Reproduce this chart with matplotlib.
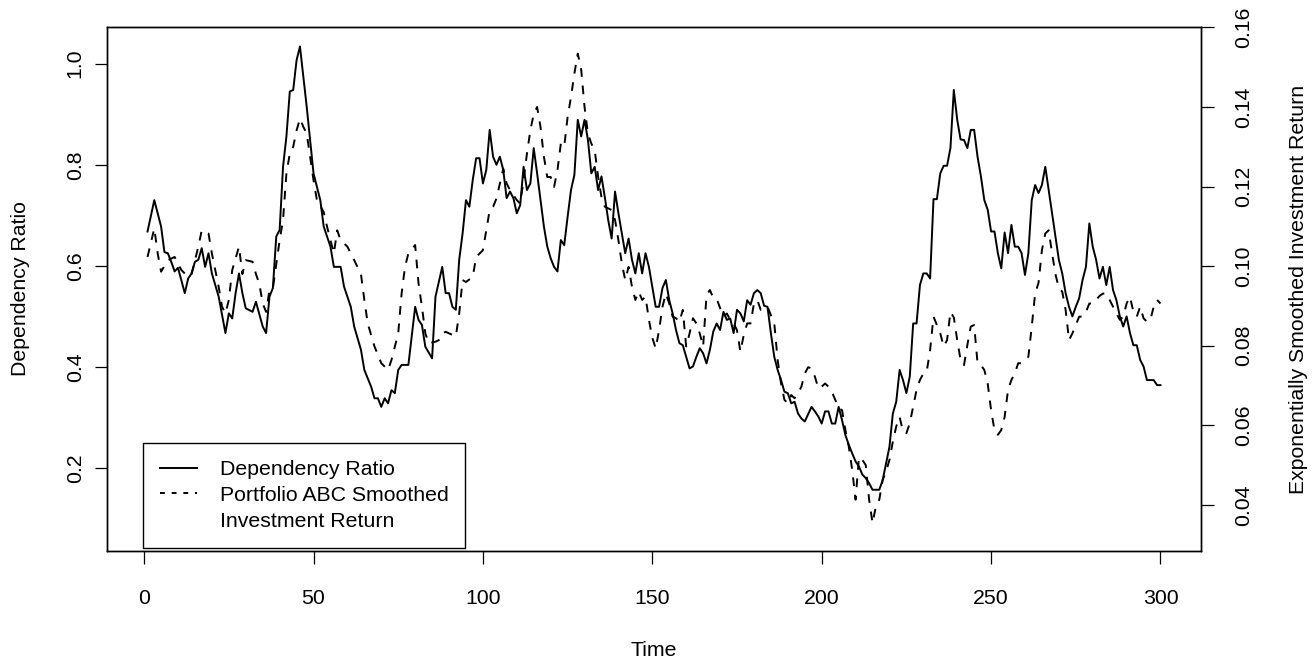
import matplotlib
matplotlib.use("Agg")
import matplotlib.pyplot as plt
from matplotlib.lines import Line2D

plt.rcParams['font.family'] = ['Liberation Sans', 'DejaVu Sans']
plt.rcParams['font.size'] = 15.3

# ---------- dependency ratio (left axis) ----------
dep_time = [1, 3, 5, 6, 7, 8, 9, 10, 12, 13, 14, 15, 16, 17, 18, 19, 20, 22, 23, 24,
            25, 26, 27, 28, 29, 30, 32, 33, 35, 36, 37, 38, 39, 40, 41, 42, 43, 44, 45, 46,
            47, 48, 49, 50, 52, 53, 55, 56, 58, 59, 61, 62, 64, 65, 67, 68, 69, 70, 71, 72,
            73, 74, 75, 76, 78, 80, 81, 82, 83, 85, 86, 88, 89, 90, 91, 92, 93, 94, 95, 96,
            97, 98, 99, 100, 101, 102, 103, 104, 105, 106, 107, 108, 109, 110, 111, 112, 113, 114, 115, 116,
            117, 118, 119, 120, 121, 122, 123, 124, 125, 126, 127, 128, 129, 130, 131, 132, 133, 134, 135, 136,
            137, 138, 139, 140, 141, 142, 143, 144, 145, 146, 147, 148, 149, 150, 151, 152, 153, 154, 155, 156,
            157, 158, 159, 160, 161, 162, 163, 164, 165, 166, 167, 168, 169, 170, 171, 172, 173, 174, 175, 176,
            177, 178, 179, 180, 181, 182, 183, 184, 185, 186, 187, 188, 189, 190, 191, 192, 193, 194, 195, 197,
            198, 199, 200, 201, 202, 203, 204, 205, 206, 207, 208, 209, 210, 211, 212, 213, 214, 215, 216, 217,
            218, 219, 220, 221, 222, 223, 224, 225, 226, 227, 228, 229, 230, 231, 232, 233, 234, 235, 236, 237,
            238, 239, 240, 241, 242, 243, 244, 245, 246, 247, 248, 249, 250, 251, 252, 253, 254, 255, 256, 257,
            258, 259, 260, 261, 262, 263, 264, 265, 266, 267, 268, 269, 270, 271, 272, 273, 274, 275, 276, 277,
            278, 279, 280, 281, 282, 283, 284, 285, 286, 287, 288, 289, 290, 291, 292, 293, 294, 295, 296, 297,
            298, 299, 300]
dep_ratio = [0.668, 0.730, 0.678, 0.627, 0.625, 0.608, 0.589, 0.596, 0.546, 0.575, 0.585, 0.608, 0.612, 0.635, 0.598, 0.625, 0.585, 0.539, 0.503, 0.467,
             0.506, 0.496, 0.546, 0.585, 0.546, 0.516, 0.509, 0.529, 0.480, 0.467, 0.539, 0.556, 0.658, 0.671, 0.796, 0.856, 0.945, 0.948, 1.007, 1.034,
             0.974, 0.914, 0.849, 0.783, 0.730, 0.678, 0.638, 0.598, 0.598, 0.559, 0.519, 0.480, 0.434, 0.394, 0.361, 0.338, 0.338, 0.321, 0.338, 0.328,
             0.354, 0.348, 0.394, 0.404, 0.404, 0.519, 0.493, 0.483, 0.440, 0.417, 0.539, 0.598, 0.546, 0.546, 0.519, 0.513, 0.612, 0.664, 0.730, 0.717,
             0.770, 0.813, 0.813, 0.763, 0.790, 0.869, 0.816, 0.800, 0.816, 0.790, 0.734, 0.747, 0.734, 0.704, 0.720, 0.796, 0.750, 0.763, 0.833, 0.783,
             0.730, 0.678, 0.638, 0.615, 0.598, 0.589, 0.651, 0.641, 0.697, 0.750, 0.780, 0.889, 0.856, 0.889, 0.849, 0.783, 0.796, 0.750, 0.777, 0.735,
             0.690, 0.654, 0.747, 0.704, 0.664, 0.625, 0.654, 0.612, 0.585, 0.625, 0.585, 0.625, 0.598, 0.559, 0.519, 0.519, 0.556, 0.572, 0.532, 0.506,
             0.473, 0.447, 0.443, 0.420, 0.397, 0.401, 0.420, 0.437, 0.427, 0.407, 0.434, 0.470, 0.486, 0.473, 0.509, 0.493, 0.496, 0.467, 0.513, 0.506,
             0.490, 0.532, 0.523, 0.546, 0.552, 0.546, 0.521, 0.519, 0.467, 0.420, 0.394, 0.374, 0.351, 0.348, 0.328, 0.331, 0.308, 0.298, 0.292, 0.321,
             0.312, 0.302, 0.288, 0.312, 0.312, 0.288, 0.288, 0.321, 0.295, 0.265, 0.246, 0.229, 0.213, 0.203, 0.187, 0.180, 0.170, 0.157, 0.157, 0.157,
             0.176, 0.209, 0.242, 0.308, 0.331, 0.394, 0.374, 0.348, 0.381, 0.486, 0.486, 0.562, 0.585, 0.585, 0.575, 0.732, 0.732, 0.783, 0.798, 0.798,
             0.833, 0.948, 0.889, 0.850, 0.849, 0.833, 0.869, 0.869, 0.816, 0.777, 0.730, 0.711, 0.668, 0.668, 0.625, 0.595, 0.666, 0.625, 0.681, 0.638,
             0.638, 0.625, 0.582, 0.625, 0.730, 0.760, 0.744, 0.760, 0.796, 0.750, 0.704, 0.658, 0.612, 0.585, 0.546, 0.519, 0.500, 0.519, 0.536, 0.572,
             0.598, 0.684, 0.638, 0.612, 0.575, 0.598, 0.562, 0.598, 0.552, 0.532, 0.500, 0.480, 0.500, 0.467, 0.443, 0.443, 0.414, 0.401, 0.374, 0.374,
             0.374, 0.364, 0.364]

# ---------- smoothed investment return (right axis) ----------
ret_time = [1, 3, 4, 5, 7, 9, 11, 13, 14, 16, 17, 18, 19, 20, 21, 22, 23, 24, 25, 26,
            28, 29, 30, 32, 33, 34, 35, 36, 37, 38, 40, 41, 42, 43, 44, 45, 46, 47, 48, 50,
            51, 53, 54, 56, 57, 58, 60, 62, 64, 65, 66, 68, 70, 72, 73, 75, 76, 77, 78, 80,
            81, 82, 83, 84, 86, 87, 88, 89, 90, 92, 93, 94, 95, 97, 98, 100, 101, 102, 103, 104,
            105, 106, 107, 108, 110, 111, 112, 113, 114, 115, 116, 117, 118, 119, 120, 121, 122, 123, 124, 125,
            126, 127, 128, 129, 130, 131, 132, 133, 134, 135, 136, 137, 138, 139, 140, 141, 142, 143, 144, 145,
            146, 147, 148, 149, 150, 151, 152, 153, 154, 155, 156, 157, 158, 159, 160, 161, 162, 163, 164, 165,
            166, 167, 168, 169, 170, 171, 172, 173, 174, 175, 176, 177, 178, 179, 180, 181, 182, 183, 184, 186,
            187, 188, 189, 190, 191, 192, 193, 194, 195, 196, 197, 198, 199, 200, 201, 202, 203, 204, 205, 206,
            207, 208, 209, 210, 211, 212, 213, 214, 215, 216, 217, 218, 219, 220, 221, 222, 223, 224, 225, 226,
            227, 228, 229, 230, 231, 232, 233, 234, 235, 236, 237, 238, 239, 240, 241, 242, 243, 244, 245, 246,
            247, 248, 249, 250, 251, 252, 253, 254, 255, 256, 257, 258, 259, 260, 261, 262, 263, 264, 265, 266,
            267, 268, 269, 270, 271, 272, 273, 274, 275, 276, 277, 278, 279, 280, 281, 282, 283, 284, 285, 286,
            287, 288, 289, 290, 291, 292, 293, 294, 295, 296, 297, 298, 299, 300]
ret_value = [0.1023, 0.1095, 0.1032, 0.0986, 0.1015, 0.1023, 0.0990, 0.0973, 0.0980, 0.1049, 0.1090, 0.1085, 0.1082, 0.1032, 0.0990, 0.0948, 0.0898, 0.0881, 0.0915, 0.0990,
             0.1049, 0.0980, 0.1015, 0.1011, 0.0980, 0.0956, 0.0906, 0.0885, 0.0940, 0.0944, 0.1065, 0.1116, 0.1233, 0.1283, 0.1300, 0.1341, 0.1371, 0.1350, 0.1333, 0.1216,
             0.1166, 0.1136, 0.1099, 0.1032, 0.1090, 0.1065, 0.1049, 0.1015, 0.0980, 0.0915, 0.0856, 0.0798, 0.0756, 0.0739, 0.0764, 0.0831, 0.0931, 0.0998, 0.1032, 0.1053,
             0.0956, 0.0898, 0.0831, 0.0806, 0.0810, 0.0814, 0.0831, 0.0835, 0.0831, 0.0823, 0.0881, 0.0965, 0.0960, 0.0973, 0.1023, 0.1040, 0.1090, 0.1141, 0.1149, 0.1170,
             0.1208, 0.1245, 0.1208, 0.1191, 0.1166, 0.1157, 0.1216, 0.1283, 0.1341, 0.1383, 0.1400, 0.1350, 0.1275, 0.1224, 0.1224, 0.1199, 0.1241, 0.1308, 0.1300, 0.1375,
             0.1425, 0.1484, 0.1534, 0.1495, 0.1400, 0.1333, 0.1308, 0.1291, 0.1225, 0.1173, 0.1149, 0.1145, 0.1141, 0.1116, 0.1065, 0.1007, 0.0965, 0.0998, 0.0948, 0.0915,
             0.0936, 0.0915, 0.0923, 0.0865, 0.0820, 0.0793, 0.0839, 0.0898, 0.0931, 0.0906, 0.0873, 0.0869, 0.0860, 0.0890, 0.0798, 0.0831, 0.0869, 0.0856, 0.0831, 0.0798,
             0.0927, 0.0940, 0.0920, 0.0918, 0.0895, 0.0873, 0.0881, 0.0865, 0.0856, 0.0839, 0.0785, 0.0827, 0.0856, 0.0856, 0.0906, 0.0915, 0.0890, 0.0894, 0.0898, 0.0856,
             0.0764, 0.0705, 0.0664, 0.0655, 0.0676, 0.0668, 0.0680, 0.0697, 0.0730, 0.0746, 0.0743, 0.0722, 0.0693, 0.0697, 0.0705, 0.0697, 0.0684, 0.0664, 0.0643, 0.0638,
             0.0588, 0.0546, 0.0488, 0.0413, 0.0520, 0.0513, 0.0500, 0.0413, 0.0354, 0.0396, 0.0413, 0.0463, 0.0484, 0.0513, 0.0559, 0.0597, 0.0621, 0.0584, 0.0580, 0.0605,
             0.0647, 0.0689, 0.0714, 0.0730, 0.0735, 0.0789, 0.0873, 0.0852, 0.0831, 0.0798, 0.0814, 0.0885, 0.0871, 0.0814, 0.0764, 0.0751, 0.0802, 0.0848, 0.0852, 0.0756,
             0.0751, 0.0739, 0.0705, 0.0638, 0.0588, 0.0576, 0.0588, 0.0621, 0.0689, 0.0714, 0.0730, 0.0756, 0.0756, 0.0764, 0.0772, 0.0848, 0.0931, 0.0958, 0.1040, 0.1082,
             0.1090, 0.1032, 0.0980, 0.0944, 0.0936, 0.0890, 0.0814, 0.0831, 0.0852, 0.0873, 0.0873, 0.0885, 0.0906, 0.0906, 0.0915, 0.0925, 0.0931, 0.0931, 0.0915, 0.0898,
             0.0881, 0.0865, 0.0873, 0.0906, 0.0923, 0.0885, 0.0873, 0.0898, 0.0869, 0.0860, 0.0865, 0.0898, 0.0915, 0.0906]

x_ticks = [0, 50, 100, 150, 200, 250, 300]
left_ticks = [0.2, 0.4, 0.6, 0.8, 1.0]
right_ticks = [0.04, 0.06, 0.08, 0.10, 0.12, 0.14, 0.16]

W, H = 1312, 666
fig = plt.figure(figsize=(W / 100, H / 100), dpi=100)
ax = fig.add_axes([107 / W, 1 - 551 / H, (1201 - 107) / W, (551 - 27) / H])
ax2 = ax.twinx()

# ---------- lines ----------
ax.plot(dep_time, dep_ratio, color='black', lw=1.4)
ax2.plot(ret_time, ret_value, color='black', lw=1.4, linestyle=(0, (4.5, 4.5)))

ax.set_xlim(-10.96, 311.96)
ax.set_ylim(0.0358, 1.0726)
ax2.set_ylim(0.0284, 0.1601)

ax.set_xticks(x_ticks)
ax.set_xticklabels([str(v) for v in x_ticks])
ax.set_yticks(left_ticks)
ax.set_yticklabels([f"{v:.1f}" for v in left_ticks], rotation=90, va='center')
ax2.set_yticks(right_ticks)
ax2.set_yticklabels([f"{v:.2f}" for v in right_ticks], rotation=90, va='center')

ax.tick_params(axis='x', direction='out', length=9, width=0.9, pad=18)
ax.tick_params(axis='y', direction='out', length=9, width=0.9, pad=7)
ax2.tick_params(axis='y', direction='out', length=9, width=0.9, pad=15)
for a in (ax, ax2):
    for s in a.spines.values():
        s.set_linewidth(1.0)

fig.text(654 / W, 1 - 650 / H, "Time", ha='center', va='center')
fig.text(21 / W, 1 - 289 / H, "Dependency Ratio", rotation=90, ha='center', va='center')
fig.text(1298 / W, 1 - 289 / H, "Exponentially Smoothed Investment Return",
         rotation=90, ha='center', va='center')

# ---------- legend ----------
handles = [Line2D([], [], color='black', lw=1.4),
           Line2D([], [], color='black', lw=1.4, linestyle=(0, (2.5, 3.5))),
           Line2D([], [], color='none')]
labels = ["Dependency Ratio", "Portfolio ABC Smoothed", "Investment Return"]
leg = ax.legend(handles, labels, loc='upper left',
                bbox_to_anchor=(143 / W, 1 - 443 / H), bbox_transform=fig.transFigure,
                borderaxespad=0, fancybox=False, framealpha=1, edgecolor='black',
                borderpad=0.8, handlelength=1.75, handletextpad=1.05, labelspacing=0.32)
leg.get_frame().set_linewidth(1.0)

fig.savefig("out.png", dpi=100)
